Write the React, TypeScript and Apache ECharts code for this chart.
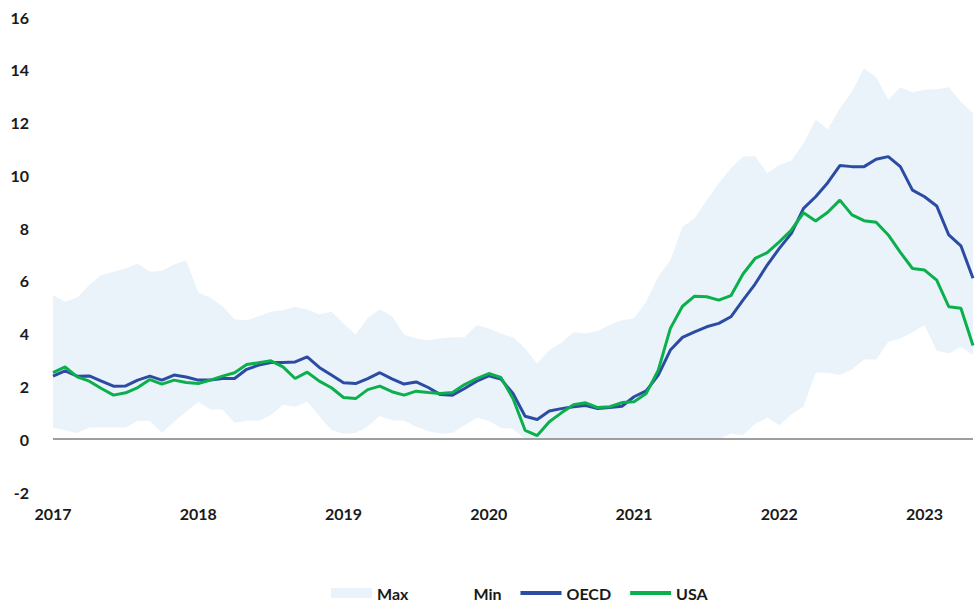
import React, { useEffect, useRef } from "react";
import * as echarts from "echarts";

const yearLabels = ["2017", "2018", "2019", "2020", "2021", "2022", "2023"];
const monthsInLastYear = 5; // Jan–May 2023

const oecd = [
  2.39, 2.59, 2.39, 2.4, 2.2, 2.01, 2.02, 2.24, 2.39, 2.24, 2.43, 2.36,
  2.24, 2.24, 2.3, 2.3, 2.65, 2.81, 2.91, 2.91, 2.93, 3.12, 2.72, 2.43,
  2.14, 2.11, 2.3, 2.52, 2.29, 2.09, 2.17, 1.96, 1.69, 1.67, 1.92, 2.2,
  2.4, 2.28, 1.73, 0.87, 0.75, 1.07, 1.16, 1.23, 1.28, 1.16, 1.2, 1.25,
  1.61, 1.83, 2.43, 3.38, 3.86, 4.07, 4.26, 4.39, 4.64, 5.27, 5.88, 6.6,
  7.23, 7.8, 8.75, 9.19, 9.72, 10.37, 10.33, 10.33, 10.61, 10.71, 10.33, 9.44,
  9.19, 8.84, 7.74, 7.33, 6.1,
];

const usa = [
  2.52, 2.74, 2.36, 2.2, 1.92, 1.67, 1.76, 1.96, 2.26, 2.09, 2.24, 2.15,
  2.11, 2.24, 2.39, 2.52, 2.83, 2.9, 2.97, 2.74, 2.3, 2.54, 2.2, 1.95,
  1.58, 1.54, 1.88, 2.01, 1.8, 1.67, 1.82, 1.77, 1.73, 1.77, 2.07, 2.3,
  2.49, 2.34, 1.54, 0.34, 0.14, 0.66, 1.0, 1.31, 1.38, 1.2, 1.23, 1.39,
  1.42, 1.73, 2.62, 4.2, 5.04, 5.42, 5.4, 5.27, 5.44, 6.26, 6.85, 7.07,
  7.48, 7.93, 8.58, 8.27, 8.6, 9.06, 8.5, 8.28, 8.22, 7.74, 7.08, 6.47,
  6.41, 6.03, 5.02, 4.96, 3.55,
];

const maxBand = [
  5.46, 5.21, 5.37, 5.84, 6.22, 6.35, 6.47, 6.66, 6.35, 6.38, 6.62, 6.78,
  5.56, 5.36, 5.04, 4.55, 4.51, 4.66, 4.83, 4.89, 5.02, 4.92, 4.73, 4.83,
  4.39, 3.97, 4.6, 4.93, 4.66, 3.97, 3.82, 3.75, 3.82, 3.86, 3.86, 4.33,
  4.2, 4.01, 3.86, 3.44, 2.87, 3.38, 3.65, 4.05, 4.01, 4.1, 4.33, 4.51,
  4.58, 5.21, 6.16, 6.79, 8.05, 8.37, 9.06, 9.7, 10.27, 10.71, 10.73, 10.08,
  10.39, 10.56, 11.21, 12.12, 11.74, 12.54, 13.17, 14.06, 13.72, 12.86, 13.34, 13.14,
  13.24, 13.26, 13.34, 12.79, 12.35,
];

const minBand = [
  0.44, 0.34, 0.24, 0.44, 0.44, 0.44, 0.44, 0.7, 0.7, 0.24, 0.66, 1.04,
  1.42, 1.13, 1.13, 0.62, 0.7, 0.7, 0.91, 1.31, 1.23, 1.42, 0.87, 0.35,
  0.21, 0.24, 0.49, 0.88, 0.72, 0.7, 0.47, 0.3, 0.21, 0.24, 0.53, 0.81,
  0.7, 0.43, 0.4, 0, 0, 0, 0, 0, 0, 0, 0, 0,
  0, 0, 0, 0, 0, 0, 0, 0, 0.21, 0.15, 0.59, 0.81,
  0.53, 0.94, 1.23, 2.52, 2.52, 2.43, 2.64, 3.02, 3.02, 3.69, 3.82, 4.05,
  4.32, 3.35, 3.25, 3.5, 3.19,
];

const BAND = "#EAF3FA";
const BLUE = "#2C4CA3";
const GREEN = "#0BB04C";
const TEXT = "#1a1a1a";
const FONT = "Lato, 'Open Sans', sans-serif";
const LINE_ICON = "path://M0,0 L41,0 L41,4 L0,4 Z";

export default function App() {
  const ref = useRef<HTMLDivElement>(null);

  useEffect(() => {
    if (!ref.current) return;
    const chart = echarts.init(ref.current, undefined, { renderer: "svg" });

    const categories: string[] = [];
    yearLabels.forEach((y, yi) => {
      const n = yi === yearLabels.length - 1 ? monthsInLastYear : 12;
      for (let m = 1; m <= n; m++) categories.push(`${y}-${String(m).padStart(2, "0")}`);
    });
    const bandDiff = maxBand.map((v, i) => +(v - minBand[i]).toFixed(2));

    chart.setOption({
      animation: false,
      backgroundColor: "#ffffff",
      textStyle: { fontFamily: FONT },
      grid: { left: 53, right: 4, top: 17, bottom: 111, containLabel: false },
      legend: {
        left: 326,
        top: 580,
        itemWidth: 41,
        itemHeight: 10,
        itemGap: 19,
        textStyle: { color: TEXT, fontSize: 16, fontWeight: "bold", fontFamily: FONT },
        data: [
          { name: "Max", icon: "rect", itemStyle: { color: BAND } },
          { name: "Min", icon: "rect", itemStyle: { color: "rgba(255,255,255,0)" } },
          { name: "OECD", icon: LINE_ICON, itemStyle: { color: BLUE } },
          { name: "USA", icon: LINE_ICON, itemStyle: { color: GREEN } },
        ],
      },
      xAxis: {
        type: "category",
        data: categories,
        boundaryGap: false,
        axisLine: { show: false, onZero: false },
        axisTick: { show: false },
        splitLine: { show: false },
        axisLabel: {
          interval: (index: number) => index % 12 === 0,
          formatter: (v: string) => v.slice(0, 4),
          color: TEXT,
          fontSize: 16,
          fontWeight: "bold",
          fontFamily: FONT,
          margin: 13,
        },
      },
      yAxis: {
        type: "value",
        min: -2,
        max: 16,
        interval: 2,
        axisLine: { show: false },
        axisTick: { show: false },
        splitLine: { show: false },
        axisLabel: {
          color: TEXT,
          fontSize: 16,
          fontWeight: "bold",
          fontFamily: FONT,
          margin: 24,
        },
      },
      series: [
        {
          name: "Min",
          type: "line",
          stack: "band",
          data: minBand,
          showSymbol: false,
          symbol: "none",
          lineStyle: { width: 0, opacity: 0 },
          areaStyle: { opacity: 0 },
          itemStyle: { color: "rgba(255,255,255,0)" },
          silent: true,
          z: 1,
          markLine: {
            silent: true,
            symbol: "none",
            label: { show: false },
            lineStyle: { color: "#9e9e9e", width: 2, type: "solid" },
            data: [{ yAxis: 0 }],
          },
        },
        {
          name: "Max",
          type: "line",
          stack: "band",
          data: bandDiff,
          showSymbol: false,
          symbol: "none",
          lineStyle: { width: 0, opacity: 0 },
          areaStyle: { color: BAND, opacity: 1 },
          itemStyle: { color: BAND },
          silent: true,
          z: 0,
        },
        {
          name: "OECD",
          type: "line",
          data: oecd,
          showSymbol: false,
          symbol: "none",
          lineStyle: { color: BLUE, width: 3 },
          itemStyle: { color: BLUE },
          z: 3,
        },
        {
          name: "USA",
          type: "line",
          data: usa,
          showSymbol: false,
          symbol: "none",
          lineStyle: { color: GREEN, width: 3 },
          itemStyle: { color: GREEN },
          z: 4,
        },
      ],
    });

    return () => chart.dispose();
  }, []);

  return (
    <div
      ref={ref}
      style={{ position: "fixed", left: 0, top: 0, width: 977, height: 603, background: "#fff" }}
    />
  );
}
